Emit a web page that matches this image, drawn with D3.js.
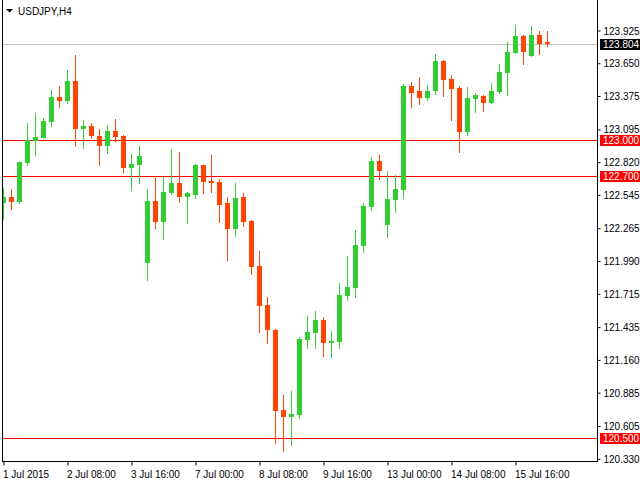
<!DOCTYPE html>
<html><head><meta charset="utf-8">
<script src="https://cdn.jsdelivr.net/npm/d3@7"></script>
<style>html,body{margin:0;padding:0;background:#fff;}svg{display:block;}</style>
</head><body>
<svg id="chart" width="640" height="480"></svg>
<script>
const symbol = "USDJPY,H4";
const open  = [122.472,122.522,122.480,122.812,122.993,123.018,123.152,123.362,123.329,123.497,
               123.093,123.119,123.035,122.951,123.077,123.035,122.766,122.791,121.968,122.489,
               122.312,122.556,122.640,122.522,122.539,122.791,122.657,122.648,122.472,122.253,
               122.522,122.321,121.943,121.615,121.405,120.733,120.674,120.691,121.321,121.380,
               121.489,121.296,121.304,121.691,121.758,122.111,122.438,122.825,122.287,122.497,
               122.581,123.455,123.413,123.354,123.413,123.665,123.513,123.438,123.068,123.345,
               123.371,123.312,123.404,123.564,123.732,123.875,123.707,123.883,123.825];
const high  = [122.598,122.589,122.820,123.144,123.228,123.186,123.421,123.455,123.589,123.715,
               123.169,123.144,123.093,123.127,123.177,123.043,122.883,122.951,122.589,122.699,
               122.690,122.925,122.900,122.564,122.799,122.795,122.875,122.673,122.522,122.640,
               122.556,122.329,122.069,121.682,121.413,120.859,120.893,121.346,121.523,121.565,
               121.514,121.397,121.800,122.027,122.245,122.472,122.858,122.875,122.741,122.707,
               123.471,123.488,123.530,123.463,123.723,123.670,123.547,123.455,123.446,123.396,
               123.379,123.480,123.639,123.824,123.967,123.883,123.959,123.917,123.917];
const low   = [122.337,122.421,122.476,122.791,122.875,123.015,123.119,123.278,123.312,122.951,
               122.934,123.018,122.791,122.892,122.993,122.732,122.581,122.640,121.825,122.262,
               122.169,122.547,122.480,122.304,122.514,122.556,122.564,122.312,121.993,122.195,
               122.279,121.875,121.388,121.296,120.456,120.389,120.439,120.666,121.254,121.254,
               121.187,121.178,121.254,121.657,121.682,122.060,122.413,122.673,122.186,122.396,
               122.514,123.278,123.303,123.337,123.387,123.371,123.169,122.900,123.043,123.236,
               123.245,123.310,123.396,123.379,123.730,123.639,123.705,123.723,123.791];
const close = [122.522,122.480,122.816,123.001,123.026,123.161,123.362,123.329,123.497,123.093,
               123.119,123.035,122.951,123.077,123.026,122.766,122.799,122.867,122.489,122.312,
               122.564,122.640,122.522,122.556,122.791,122.648,122.640,122.455,122.253,122.514,
               122.312,121.934,121.607,121.405,120.725,120.674,120.699,121.329,121.388,121.489,
               121.296,121.313,121.699,121.766,122.119,122.447,122.825,122.741,122.505,122.589,
               123.455,123.396,123.354,123.413,123.665,123.505,123.430,123.068,123.354,123.379,
               123.312,123.413,123.572,123.740,123.875,123.740,123.883,123.807,123.804];
const priceTicks = [123.925,123.650,123.375,123.095,122.820,122.545,122.265,121.990,121.715,121.435,121.160,120.885,120.605,120.330];
const timeTickIndex = [0,8,16,24,32,40,48,56,64];
const timeTickLabels = ["1 Jul 2015","2 Jul 08:00","3 Jul 16:00","7 Jul 00:00","8 Jul 08:00","9 Jul 16:00","13 Jul 00:00","14 Jul 08:00","15 Jul 16:00"];
const levelLines = [123.000,122.700,120.500];
const lastPrice = 123.804;

const svg = d3.select("#chart");
const plotL = 2, plotR = 597, plotB = 461;
const x = d3.scaleLinear().domain([0, open.length - 1]).range([3, 3 + 8 * (open.length - 1)]);
const y = d3.scaleLinear().domain([120.330, 123.925]).range([458.3, 30]);
const font = "'Liberation Sans', Arial, sans-serif";

svg.append("defs").append("clipPath").attr("id","clip")
  .append("rect").attr("x", plotL + 1).attr("y", 0).attr("width", plotR - plotL - 1).attr("height", plotB);

const plot = svg.append("g").attr("clip-path","url(#clip)");

// last price line
plot.append("line").attr("x1", plotL).attr("x2", plotR)
  .attr("y1", Math.round(y(lastPrice)) + 0.5).attr("y2", Math.round(y(lastPrice)) + 0.5)
  .attr("stroke", "#c0c0c0").attr("stroke-width", 1);
// level lines
plot.selectAll(".lvl").data(levelLines).join("line").attr("class","lvl")
  .attr("x1", plotL).attr("x2", plotR)
  .attr("y1", d => Math.round(y(d)) + 0.5).attr("y2", d => Math.round(y(d)) + 0.5)
  .attr("stroke", "#ff0000").attr("stroke-width", 1);

const idx = d3.range(open.length);
const color = i => close[i] >= open[i] ? "#32cd32" : "#ff4500";
plot.selectAll(".wick").data(idx).join("line").attr("class","wick")
  .attr("x1", i => Math.round(x(i)) + 0.5).attr("x2", i => Math.round(x(i)) + 0.5)
  .attr("y1", i => Math.round(y(high[i]))).attr("y2", i => Math.round(y(low[i])) + 1)
  .attr("stroke", color).attr("stroke-width", 1);
plot.selectAll(".body").data(idx).join("rect").attr("class","body")
  .attr("x", i => Math.round(x(i)) - 2).attr("width", 5)
  .attr("y", i => Math.round(y(Math.max(open[i], close[i]))))
  .attr("height", i => Math.max(1, Math.round(y(Math.min(open[i], close[i]))) - Math.round(y(Math.max(open[i], close[i])))))
  .attr("fill", color);

// frame
svg.append("line").attr("x1", plotL + 0.5).attr("x2", plotL + 0.5).attr("y1", 0).attr("y2", plotB + 0.5).attr("stroke", "#000");
svg.append("line").attr("x1", plotR + 0.5).attr("x2", plotR + 0.5).attr("y1", 0).attr("y2", plotB + 0.5).attr("stroke", "#000");
svg.append("line").attr("x1", plotL).attr("x2", plotR + 1).attr("y1", plotB + 0.5).attr("y2", plotB + 0.5).attr("stroke", "#000");

// right price axis
const yAxis = d3.axisRight(y).tickValues(priceTicks).tickFormat(d3.format(".3f")).tickSize(3).tickPadding(3);
const ga = svg.append("g").attr("transform", `translate(${plotR + 0.5},0.5)`).call(yAxis);
ga.select(".domain").remove();
ga.selectAll("text").attr("font-family", font).attr("font-size", 10).attr("fill", "#000").attr("dy", "0.35em");
ga.selectAll("line").attr("stroke", "#000");

// highlighted price labels
const tags = [{v:lastPrice, bg:"#000000"}].concat(levelLines.map(v => ({v, bg:"#ff0000"})));
const tg = svg.selectAll(".tag").data(tags).join("g").attr("class","tag");
tg.append("rect").attr("x", 600).attr("width", 40)
  .attr("y", d => Math.round(y(d.v)) - 5).attr("height", 11).attr("fill", d => d.bg);
tg.append("text").attr("x", 603).attr("y", d => Math.round(y(d.v)) + 0.5).attr("dy","0.35em")
  .attr("font-family", font).attr("font-size", 10).attr("fill", "#fff")
  .text(d => d3.format(".3f")(d.v));

// bottom time axis
const xAxis = d3.axisBottom(x).tickValues(timeTickIndex).tickFormat((d, k) => timeTickLabels[k]).tickSize(4).tickPadding(6);
const gx = svg.append("g").attr("transform", `translate(0.5,${plotB + 0.5})`).call(xAxis);
gx.select(".domain").remove();
gx.selectAll("line").attr("stroke", "#000");
gx.selectAll("text").attr("font-family", font).attr("font-size", 10).attr("fill", "#000")
  .attr("text-anchor", "start").attr("x", -1).attr("dy", "0.6em");

// title
svg.append("path").attr("d", "M6,9 L13,9 L9.5,12.5 Z").attr("fill", "#000");
svg.append("text").attr("x", 18).attr("y", 14.5).attr("font-family", font).attr("font-size", 10)
  .attr("fill", "#000").text(symbol);
</script>
</body></html>
